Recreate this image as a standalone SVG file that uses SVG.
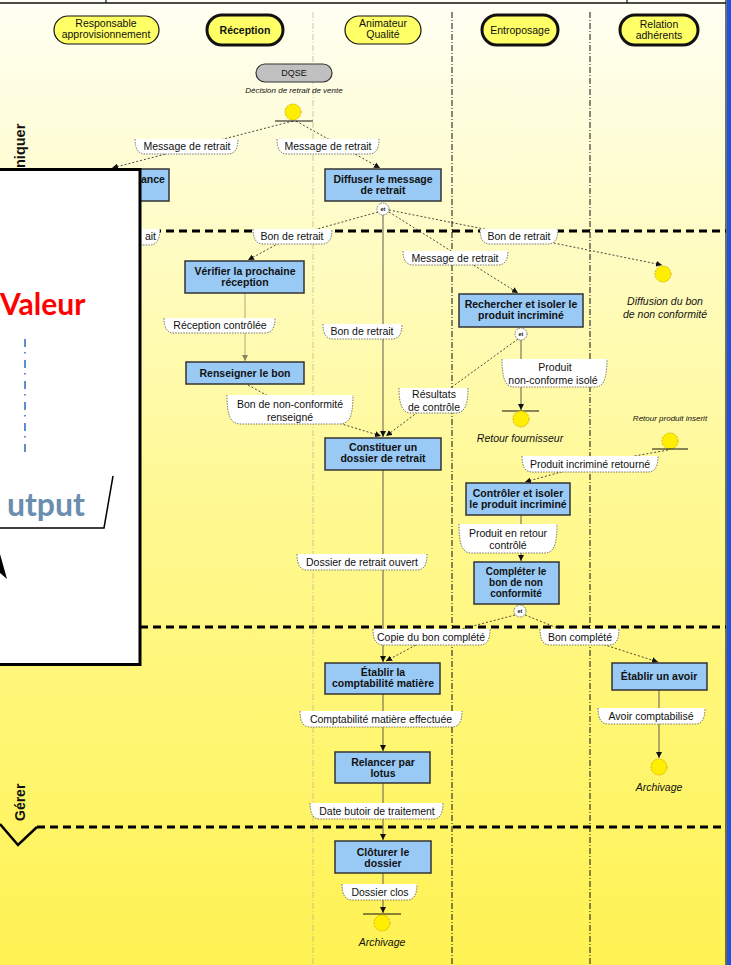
<svg xmlns="http://www.w3.org/2000/svg" width="731" height="965" viewBox="0 0 731 965">
<defs>
<linearGradient id="bg" x1="0" y1="0" x2="0" y2="1">
<stop offset="0" stop-color="#fffff4"/>
<stop offset="0.25" stop-color="#fffcc4"/>
<stop offset="0.5" stop-color="#fff996"/>
<stop offset="0.75" stop-color="#fff673"/>
<stop offset="1" stop-color="#fff253"/>
</linearGradient>
<marker id="ah" viewBox="0 0 10 10" refX="10" refY="5" markerWidth="6" markerHeight="6" orient="auto" markerUnits="userSpaceOnUse">
<path d="M0,0 L10,5 L0,10 z" fill="#111"/>
</marker>
</defs>
<style>
.t{font-family:"Liberation Sans",Arial,sans-serif;font-size:10.5px;fill:#111;text-anchor:middle}
.b{font-weight:bold}
.i{font-style:italic}
.lane{fill:#ffff66;stroke:#111;stroke-width:1.2}
.lane3{fill:#ffff66;stroke:#111;stroke-width:3}
.box{fill:#99c9f5;stroke:#333;stroke-width:1.5}
.lbl{fill:#fff;stroke:#555;stroke-width:0.8;stroke-dasharray:1.5 1.2}
.dot{fill:none;stroke:#333;stroke-width:0.9;stroke-dasharray:2 2}
.sol{fill:none;stroke:#7d765c;stroke-width:1.2}
.ev{fill:#ffee00;stroke:#c9a800;stroke-width:0.8;stroke-dasharray:2 1}
.bar{stroke:#111;stroke-width:1}
.et{fill:#fff;stroke:#555;stroke-width:0.8;stroke-dasharray:1.5 1}
.sep{stroke:#000;stroke-width:3;stroke-dasharray:8 5;fill:none}
.vl{stroke:#111;stroke-width:1;stroke-dasharray:6 2 1 2}
</style>

<rect x="0" y="0" width="731" height="965" fill="url(#bg)"/>
<rect x="727" y="0" width="4" height="965" fill="#1e50e6"/>
<line x1="726" y1="0" x2="726" y2="965" stroke="#111" stroke-width="1.2"/>
<g id="header-frame">
<line x1="0" y1="3" x2="726" y2="3" stroke="#111" stroke-width="1.5"/>
<line x1="106" y1="0" x2="106" y2="3" stroke="#111" stroke-width="1.2"/>
<line x1="627" y1="0" x2="627" y2="3" stroke="#111" stroke-width="1.2"/>
</g>

<g id="lane-separators">
<line x1="313" y1="12" x2="313" y2="965" stroke="#b8b090" stroke-width="1" stroke-dasharray="6 2 1 2" opacity="0.7"/>
<line class="vl" x1="452" y1="12" x2="452" y2="965"/>
<line class="vl" x1="590" y1="12" x2="590" y2="965"/>
</g>

<g id="section-lines">
<line class="sep" x1="140" y1="231" x2="726" y2="231"/>
<line class="sep" x1="140" y1="627" x2="726" y2="627"/>
<line class="sep" x1="37" y1="827" x2="726" y2="827"/>
<polyline points="0,824 18,845 37,827" fill="none" stroke="#000" stroke-width="2.5"/>
</g>

<g id="lanes">
<g id="lane-resp"><rect class="lane" x="54" y="16" width="105" height="28" rx="14"/><text class="t" x="106" y="27">Responsable</text><text class="t" x="106" y="38">approvisionnement</text></g>
<g id="lane-reception"><rect class="lane3" x="207" y="15" width="76" height="30" rx="15"/><text class="t b" x="245" y="34">Réception</text></g>
<g id="lane-animateur"><rect class="lane" x="345" y="16" width="76" height="28" rx="14"/><text class="t" x="383" y="27">Animateur</text><text class="t" x="383" y="38">Qualité</text></g>
<g id="lane-entroposage"><rect class="lane3" x="482" y="15" width="76" height="30" rx="15"/><text class="t" x="520" y="34">Entroposage</text></g>
<g id="lane-relation"><rect class="lane3" x="620" y="15" width="78" height="30" rx="15"/><text class="t" x="659" y="28">Relation</text><text class="t" x="659" y="39">adhérents</text></g>
</g>

<g id="connectors">
<path class="dot" d="M293,121 L112,168" marker-end="url(#ah)"/>
<path class="dot" d="M296,121 L380,168" marker-end="url(#ah)"/>
<path class="dot" d="M378,212 L292,236 L248,260" marker-end="url(#ah)"/>
<path class="dot" d="M389,212 L518,293" marker-end="url(#ah)"/>
<path class="dot" d="M389,210 L519,236 L662,265" marker-end="url(#ah)"/>
<path class="dot" d="M248,385 L290,408 L381,436" marker-end="url(#ah)"/>
<path class="dot" d="M518,339 L434,400 L386,436" marker-end="url(#ah)"/>
<path class="dot" d="M668,450 L590,464 L525,482" marker-end="url(#ah)"/>
<path class="dot" d="M515,615 L431,637 L386,661" marker-end="url(#ah)"/>
<path class="dot" d="M525,615 L580,637 L658,662" marker-end="url(#ah)"/>
<path class="sol" d="M383,215 L383,437" marker-end="url(#ah)"/>
<path class="sol" d="M383,470 L383,662" marker-end="url(#ah)"/>
<path class="sol" d="M383,694 L383,751" marker-end="url(#ah)"/>
<path class="sol" d="M383,783 L383,840" marker-end="url(#ah)"/>
<path class="sol" d="M383,873 L383,913" marker-end="url(#ah)"/>
<path class="sol" d="M245,293 L245,361" marker-end="url(#ah)" opacity="0.5"/>
<path class="sol" d="M521,340 L521,410" marker-end="url(#ah)"/>
<path class="sol" d="M521,515 L521,561" marker-end="url(#ah)"/>
<path class="sol" d="M659,690 L659,758" marker-end="url(#ah)"/>
<path class="sol" d="M520,604 L520,605"/>
</g>

<g id="labels">
<g id="l1"><path class="lbl" d="M135,139 C135,150 139,154 145,154 L228,154 C234,154 238,150 238,139"/><text class="t" x="187" y="150">Message de retrait</text></g>
<g id="l2"><path class="lbl" d="M277,139 C277,150 281,154 287,154 L369,154 C375,154 379,150 379,139"/><text class="t" x="328" y="150">Message de retrait</text></g>
<g id="l3"><path class="lbl" d="M100,229 C100,240 104,245 110,245 L150,245 C156,245 160,240 160,229"/><text class="t" x="156" y="240" style="text-anchor:end">ait</text></g>
<g id="l4"><path class="lbl" d="M253,229 C253,240 257,244 263,244 L322,244 C328,244 332,240 332,229"/><text class="t" x="292" y="240">Bon de retrait</text></g>
<g id="l5"><path class="lbl" d="M480,229 C480,240 484,244 490,244 L548,244 C554,244 558,240 558,229"/><text class="t" x="519" y="240">Bon de retrait</text></g>
<g id="l6"><path class="lbl" d="M403,251 C403,261 407,265 413,265 L498,265 C504,265 508,261 508,251"/><text class="t" x="455" y="262">Message de retrait</text></g>
<g id="l7"><path class="lbl" d="M164,318 C164,329 168,333 174,333 L265,333 C271,333 275,329 275,318"/><text class="t" x="220" y="329">Réception contrôlée</text></g>
<g id="l8"><path class="lbl" d="M323,324 C323,335 327,339 333,339 L392,339 C398,339 402,335 402,324"/><text class="t" x="362" y="335">Bon de retrait</text></g>
<g id="l9"><path class="lbl" d="M502,359 C502,380 506,387 514,387 L595,387 C603,387 607,380 607,359"/><text class="t" x="555" y="371">Produit</text><text class="t" x="553" y="384">non-conforme isolé</text></g>
<g id="l10"><path class="lbl" d="M399,388 C399,406 403,413 411,413 L456,413 C464,413 468,406 468,388"/><text class="t" x="434" y="398">Résultats</text><text class="t" x="434" y="411">de contrôle</text></g>
<g id="l11"><path class="lbl" d="M227,395 C227,417 231,424 241,424 L339,424 C349,424 353,417 353,395"/><text class="t" x="290" y="408">Bon de non-conformité</text><text class="t" x="290" y="421">renseigné</text></g>
<g id="l12"><path class="lbl" d="M522,456 C522,468 526,472 532,472 L648,472 C654,472 658,468 658,456"/><text class="t" x="590" y="468">Produit incriminé retourné</text></g>
<g id="l13"><path class="lbl" d="M459,524 C459,546 463,553 471,553 L545,553 C553,553 557,546 557,524"/><text class="t" x="508" y="537">Produit en retour</text><text class="t" x="508" y="549">contrôlé</text></g>
<g id="l14"><path class="lbl" d="M297,554 C297,566 301,570 307,570 L417,570 C423,570 427,566 427,554"/><text class="t" x="362" y="566">Dossier de retrait ouvert</text></g>
<g id="l15"><path class="lbl" d="M373,629 C373,641 377,645 383,645 L480,645 C486,645 490,641 490,629"/><text class="t" x="431" y="641">Copie du bon complété</text></g>
<g id="l16"><path class="lbl" d="M540,629 C540,641 544,645 550,645 L609,645 C615,645 619,641 619,629"/><text class="t" x="580" y="641">Bon complété</text></g>
<g id="l17"><path class="lbl" d="M300,711 C300,723 304,727 310,727 L452,727 C458,727 462,723 462,711"/><text class="t" x="381" y="723">Comptabilité matière effectuée</text></g>
<g id="l18"><path class="lbl" d="M598,708 C598,720 602,724 608,724 L695,724 C701,724 705,720 705,708"/><text class="t" x="651" y="720">Avoir comptabilisé</text></g>
<g id="l19"><path class="lbl" d="M310,803 C310,815 314,819 320,819 L433,819 C439,819 443,815 443,803"/><text class="t" x="377" y="815">Date butoir de traitement</text></g>
<g id="l20"><path class="lbl" d="M342,884 C342,896 346,900 352,900 L407,900 C413,900 417,896 417,884"/><text class="t" x="380" y="896">Dossier clos</text></g>
</g>

<g id="nodes">
<g id="dqse"><rect x="256" y="64" width="76" height="18" rx="9" fill="#c0c0c0" stroke="#333" stroke-width="1.2"/><text class="t" x="294" y="76" style="font-size:9px">DQSE</text><text class="t i" x="294" y="93" style="font-size:8px">Décision de retrait de vente</text></g>
<g id="start"><circle class="ev" cx="293" cy="112" r="8"/><line class="bar" x1="275" y1="121" x2="313" y2="121"/></g>
<g id="box-ance"><rect class="box" x="100" y="169" width="69" height="32"/><text class="t b" x="153" y="183">ance</text></g>
<g id="box-diffuser"><rect class="box" x="325" y="169" width="116" height="32"/><text class="t b" x="383" y="183">Diffuser le message</text><text class="t b" x="383" y="194">de retrait</text></g>
<g id="et1"><circle class="et" cx="383" cy="209" r="6"/><text class="t b" x="383" y="211" style="font-size:5.5px">et</text></g>
<g id="box-verifier"><rect class="box" x="185" y="261" width="119" height="32"/><text class="t b" x="245" y="275">Vérifier la prochaine</text><text class="t b" x="245" y="286">réception</text></g>
<g id="ev-diffusion"><circle class="ev" cx="663" cy="274" r="8"/><text class="t i" x="665" y="305">Diffusion du bon</text><text class="t i" x="665" y="318">de non conformité</text></g>
<g id="box-rechercher"><rect class="box" x="459" y="294" width="124" height="33"/><text class="t b" x="521" y="308">Rechercher et isoler le</text><text class="t b" x="521" y="319">produit incriminé</text></g>
<g id="et2"><circle class="et" cx="521" cy="334" r="6"/><text class="t b" x="521" y="336" style="font-size:5.5px">et</text></g>
<g id="box-renseigner"><rect class="box" x="186" y="362" width="118" height="22"/><text class="t b" x="245" y="377">Renseigner le bon</text></g>
<g id="ev-retour-fournisseur"><line class="bar" x1="502" y1="411" x2="539" y2="411"/><circle class="ev" cx="521" cy="419" r="8"/><text class="t i" x="520" y="442">Retour fournisseur</text></g>
<g id="ev-retour-produit"><text class="t i" x="670" y="421" style="font-size:8px">Retour produit inserit</text><circle class="ev" cx="670" cy="441" r="8"/><line class="bar" x1="652" y1="449" x2="688" y2="449"/></g>
<g id="box-constituer"><rect class="box" x="325" y="438" width="116" height="32"/><text class="t b" x="383" y="451">Constituer un</text><text class="t b" x="383" y="462">dossier de retrait</text></g>
<g id="box-controler"><rect class="box" x="466" y="483" width="104" height="32"/><text class="t b" x="518" y="497">Contrôler et isoler</text><text class="t b" x="518" y="508">le produit incriminé</text></g>
<g id="box-completer"><rect class="box" x="474" y="562" width="85" height="42"/><text class="t b" x="516" y="575" style="font-size:10px">Compléter le</text><text class="t b" x="516" y="586" style="font-size:10px">bon de non</text><text class="t b" x="516" y="597" style="font-size:10px">conformité</text></g>
<g id="et3"><circle class="et" cx="520" cy="611" r="6"/><text class="t b" x="520" y="613" style="font-size:5.5px">et</text></g>
<g id="box-etablir-compta"><rect class="box" x="325" y="663" width="115" height="31"/><text class="t b" x="383" y="676">Établir la</text><text class="t b" x="383" y="687">comptabilité matière</text></g>
<g id="box-avoir"><rect class="box" x="612" y="663" width="95" height="27"/><text class="t b" x="659" y="680">Établir un avoir</text></g>
<g id="box-relancer"><rect class="box" x="335" y="752" width="95" height="31"/><text class="t b" x="383" y="766">Relancer par</text><text class="t b" x="383" y="777">lotus</text></g>
<g id="ev-archivage1"><circle class="ev" cx="659" cy="767" r="8"/><text class="t i" x="659" y="791">Archivage</text></g>
<g id="box-cloturer"><rect class="box" x="335" y="841" width="96" height="32"/><text class="t b" x="383" y="856">Clôturer le</text><text class="t b" x="383" y="867">dossier</text></g>
<g id="ev-archivage2"><line class="bar" x1="363" y1="914" x2="401" y2="914"/><circle class="ev" cx="382" cy="923" r="8"/><text class="t i" x="382" y="946">Archivage</text></g>
</g>

<g id="overlay">
<rect x="-5" y="169.5" width="145" height="495" fill="#fff" stroke="#000" stroke-width="3"/>
<text x="0" y="315" font-family="Lato,'Open Sans',sans-serif" font-weight="bold" font-size="30" fill="#ff0000">Valeur</text>
<line x1="25" y1="339" x2="25" y2="456" stroke="#5b8fd0" stroke-width="2" stroke-dasharray="8 5 1.5 6.5"/>
<text x="85" y="516" text-anchor="end" font-family="Lato,'Open Sans',sans-serif" font-weight="bold" font-size="32" fill="#6a8db0">utput</text>
<polyline points="113,476 104,528 -2,528" fill="none" stroke="#000" stroke-width="1.5"/>
<polygon points="0,554 7,579 0,573" fill="#000"/>
</g>

<g id="side-labels">
<text transform="translate(25,168) rotate(-90)" font-family="'Liberation Sans',Arial,sans-serif" font-weight="bold" font-size="14.5" fill="#111">niquer</text>
<text transform="translate(25,821) rotate(-90)" font-family="'Liberation Sans',Arial,sans-serif" font-weight="bold" font-size="14" fill="#111">Gérer</text>
</g>
</svg>
